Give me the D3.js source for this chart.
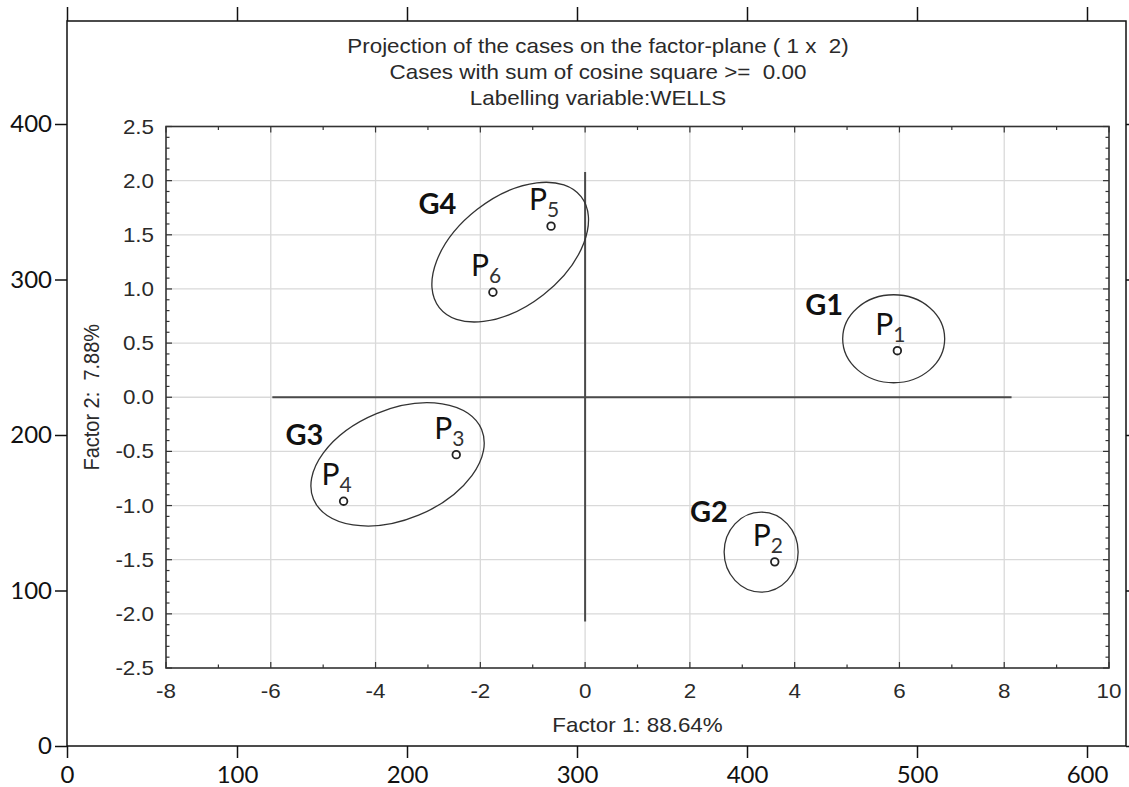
<!DOCTYPE html>
<html><head><meta charset="utf-8">
<script src="https://cdn.jsdelivr.net/npm/d3@7"></script>
<style>html,body{margin:0;padding:0;background:#fff;} svg{display:block;} text{white-space:pre;}</style>
</head><body>
<svg id="chart" width="1129" height="787"></svg>
<script>
// ---------------- DATA ----------------
const wells   = ["P1", "P2", "P3", "P4", "P5", "P6"];
const factor1 = [5.96, 3.62, -2.46, -4.61, -0.65, -1.76];
const factor2 = [0.43, -1.52, -0.53, -0.96, 1.58, 0.97];

const groups        = ["G1", "G2", "G3", "G4"];
const groupCenterX  = [5.89, 3.36, -3.58, -1.43];
const groupCenterY  = [0.54, -1.43, -0.62, 1.34];
const groupLabelX   = [4.20, 2.00, -5.72, -3.18];
const groupLabelY   = [0.76, -1.15, -0.44, 1.69];

const titleLines = [
  "Projection of the cases on the factor-plane ( 1 x  2)",
  "Cases with sum of cosine square >=  0.00",
  "Labelling variable:WELLS"
];
const xAxisTitle = "Factor 1: 88.64%";
const yAxisTitle = "Factor 2:  7.88%";

const xTicks      = [-8, -6, -4, -2, 0, 2, 4, 6, 8, 10];
const xTickLabels = ["-8", "-6", "-4", "-2", "0", "2", "4", "6", "8", "10"];
const yTicks      = [-2.5, -2.0, -1.5, -1.0, -0.5, 0.0, 0.5, 1.0, 1.5, 2.0, 2.5];
const yTickLabels = ["-2.5", "-2.0", "-1.5", "-1.0", "-0.5", "0.0", "0.5", "1.0", "1.5", "2.0", "2.5"];

const outerXTicks = [0, 100, 200, 300, 400, 500, 600];
const outerYTicks = [0, 100, 200, 300, 400];

// origin cross lines extents (data units)
const hLineX = [-5.97, 8.14];
const vLineY = [-2.07, 2.08];

// ---------------- LAYOUT / STYLE ----------------
const ellipseShape = [ // semi-axes in px and rotation (deg)
  {a: 51, b: 44, rot: 0},
  {a: 37, b: 40, rot: 0},
  {a: 91, b: 55, rot: -22.5},
  {a: 90, b: 54, rot: -38}
];
const outer = {left: 67, right: 1126, top: 21, bottom: 746};
const plot  = {left: 166, right: 1109, top: 126.5, bottom: 668};
const statFont = "'Liberation Sans', Arial, sans-serif";
const labFont  = "Lato, 'Open Sans', sans-serif";
const stretch = 1.12;
const statSize = 20;

const svg = d3.select("#chart");
svg.append("rect").attr("width", 1129).attr("height", 787).attr("fill", "#fff");

// ---------------- OUTER FRAME ----------------
const ox = d3.scaleLinear().domain([0, 600]).range([67, 1087]);
const oy = d3.scaleLinear().domain([0, 400]).range([746, 124]);

function styleOuter(g, labels) {
  g.select(".domain").remove();
  g.selectAll(".tick line").attr("stroke", "#111").attr("stroke-width", 1.5);
  g.selectAll(".tick text").attr("fill", "#111").style("font-family", labFont).style("font-size", "24px");
  if (!labels) g.selectAll(".tick text").remove();
}
svg.append("g").attr("transform", `translate(0,${outer.bottom})`)
  .call(d3.axisBottom(ox).tickValues(outerXTicks).tickSize(12).tickSizeOuter(0).tickPadding(8).tickFormat(d3.format("d")))
  .call(g => styleOuter(g, true));
svg.append("g").attr("transform", `translate(0,${outer.top})`)
  .call(d3.axisTop(ox).tickValues(outerXTicks).tickSize(14).tickSizeOuter(0))
  .call(g => styleOuter(g, false));
svg.append("g").attr("transform", `translate(${outer.left},0)`)
  .call(d3.axisLeft(oy).tickValues(outerYTicks).tickSize(12).tickSizeOuter(0).tickPadding(3).tickFormat(d3.format("d")))
  .call(g => styleOuter(g, true));
svg.append("g").attr("transform", `translate(${outer.right},0)`)
  .call(d3.axisRight(oy).tickValues(outerYTicks).tickSize(14).tickSizeOuter(0))
  .call(g => styleOuter(g, false));
svg.append("rect")
  .attr("x", outer.left).attr("y", outer.top)
  .attr("width", outer.right - outer.left).attr("height", outer.bottom - outer.top)
  .attr("fill", "none").attr("stroke", "#111").attr("stroke-width", 1.5);

// stretched STATISTICA-style text
function stext(parent, x, yy, txt, anchor, size, rot) {
  return parent.append("text")
    .attr("xml:space", "preserve")
    .attr("transform", rot ? `translate(${x},${yy}) rotate(${rot}) scale(1,${stretch})`
                           : `translate(${x},${yy}) scale(${stretch},1)`)
    .attr("text-anchor", anchor)
    .attr("fill", "#2a2a2a")
    .style("font-family", statFont).style("font-size", size + "px")
    .text(txt);
}

// ---------------- TITLE ----------------
titleLines.forEach((t, i) => stext(svg, 598, 53 + i * 26, t, "middle", statSize));

// ---------------- INNER PLOT ----------------
const x = d3.scaleLinear().domain([-8, 10]).range([plot.left, plot.right]);
const y = d3.scaleLinear().domain([-2.5, 2.5]).range([plot.bottom, plot.top]);

const grid = svg.append("g");
grid.selectAll(".vg").data(xTicks.slice(1, -1)).join("line")
  .attr("x1", d => x(d)).attr("x2", d => x(d))
  .attr("y1", plot.top).attr("y2", plot.bottom)
  .attr("stroke", "#d9d9d9").attr("stroke-width", 1.3);
grid.selectAll(".hg").data(yTicks.slice(1, -1)).join("line")
  .attr("x1", plot.left).attr("x2", plot.right)
  .attr("y1", d => y(d)).attr("y2", d => y(d))
  .attr("stroke", "#d9d9d9").attr("stroke-width", 1.3);

// frame ticks
const tk = svg.append("g").attr("stroke", "#333").attr("stroke-width", 1.2);
d3.range(-8, 10.001, 1).forEach(v => {
  const len = (Math.round(v) % 2 === 0) ? 6 : 3.5;
  tk.append("line").attr("x1", x(v)).attr("x2", x(v)).attr("y1", plot.bottom).attr("y2", plot.bottom - len);
  tk.append("line").attr("x1", x(v)).attr("x2", x(v)).attr("y1", plot.top).attr("y2", plot.top + len);
});
d3.range(-25, 26, 1).map(k => k / 10).forEach(v => {
  const len = (Math.round(v * 10) % 5 === 0) ? 6 : 3.5;
  tk.append("line").attr("x1", plot.left).attr("x2", plot.left + len).attr("y1", y(v)).attr("y2", y(v));
  tk.append("line").attr("x1", plot.right).attr("x2", plot.right - len).attr("y1", y(v)).attr("y2", y(v));
});

svg.append("rect")
  .attr("x", plot.left).attr("y", plot.top)
  .attr("width", plot.right - plot.left).attr("height", plot.bottom - plot.top)
  .attr("fill", "none").attr("stroke", "#333").attr("stroke-width", 1.6);

// tick labels
const tl = svg.append("g");
xTicks.forEach((v, i) => stext(tl, x(v), 698, xTickLabels[i], "middle", statSize));
yTicks.forEach((v, i) => stext(tl, 154, y(v) + 7, yTickLabels[i], "end", statSize));

// axis titles
stext(svg, (plot.left + plot.right) / 2, 732, xAxisTitle, "middle", statSize);
stext(svg, 99, (plot.top + plot.bottom) / 2, yAxisTitle, "middle", statSize, -90);

// origin cross lines
svg.append("line").attr("x1", x(hLineX[0])).attr("x2", x(hLineX[1]))
  .attr("y1", y(0)).attr("y2", y(0)).attr("stroke", "#4a4a4a").attr("stroke-width", 2);
svg.append("line").attr("x1", x(0)).attr("x2", x(0))
  .attr("y1", y(vLineY[0])).attr("y2", y(vLineY[1])).attr("stroke", "#4a4a4a").attr("stroke-width", 2);

// ellipses
svg.append("g").selectAll("ellipse").data(groups).join("ellipse")
  .attr("transform", (d, i) => `translate(${x(groupCenterX[i])},${y(groupCenterY[i])}) rotate(${ellipseShape[i].rot})`)
  .attr("rx", (d, i) => ellipseShape[i].a).attr("ry", (d, i) => ellipseShape[i].b)
  .attr("fill", "none").attr("stroke", "#333").attr("stroke-width", 1.3);

// group labels
svg.append("g").selectAll("text").data(groups).join("text")
  .attr("x", (d, i) => x(groupLabelX[i])).attr("y", (d, i) => y(groupLabelY[i]))
  .attr("fill", "#111").style("font-family", labFont).style("font-weight", "bold").style("font-size", "29px")
  .text(d => d);

// points
svg.append("g").selectAll("circle").data(wells).join("circle")
  .attr("cx", (d, i) => x(factor1[i])).attr("cy", (d, i) => y(factor2[i]))
  .attr("r", 3.8).attr("fill", "#fff").attr("stroke", "#222").attr("stroke-width", 1.8);

// point labels: P + subscript
const pl = svg.append("g").selectAll("text").data(wells).join("text")
  .attr("x", (d, i) => x(factor1[i]) - 22).attr("y", (d, i) => y(factor2[i]) - 16)
  .attr("fill", "#111").style("font-family", labFont).style("font-size", "30px");
pl.append("tspan").text(d => d.charAt(0));
pl.append("tspan").attr("dy", 7).style("font-size", "21px").attr("fill", "#333").text(d => d.slice(1));
</script>
</body></html>
